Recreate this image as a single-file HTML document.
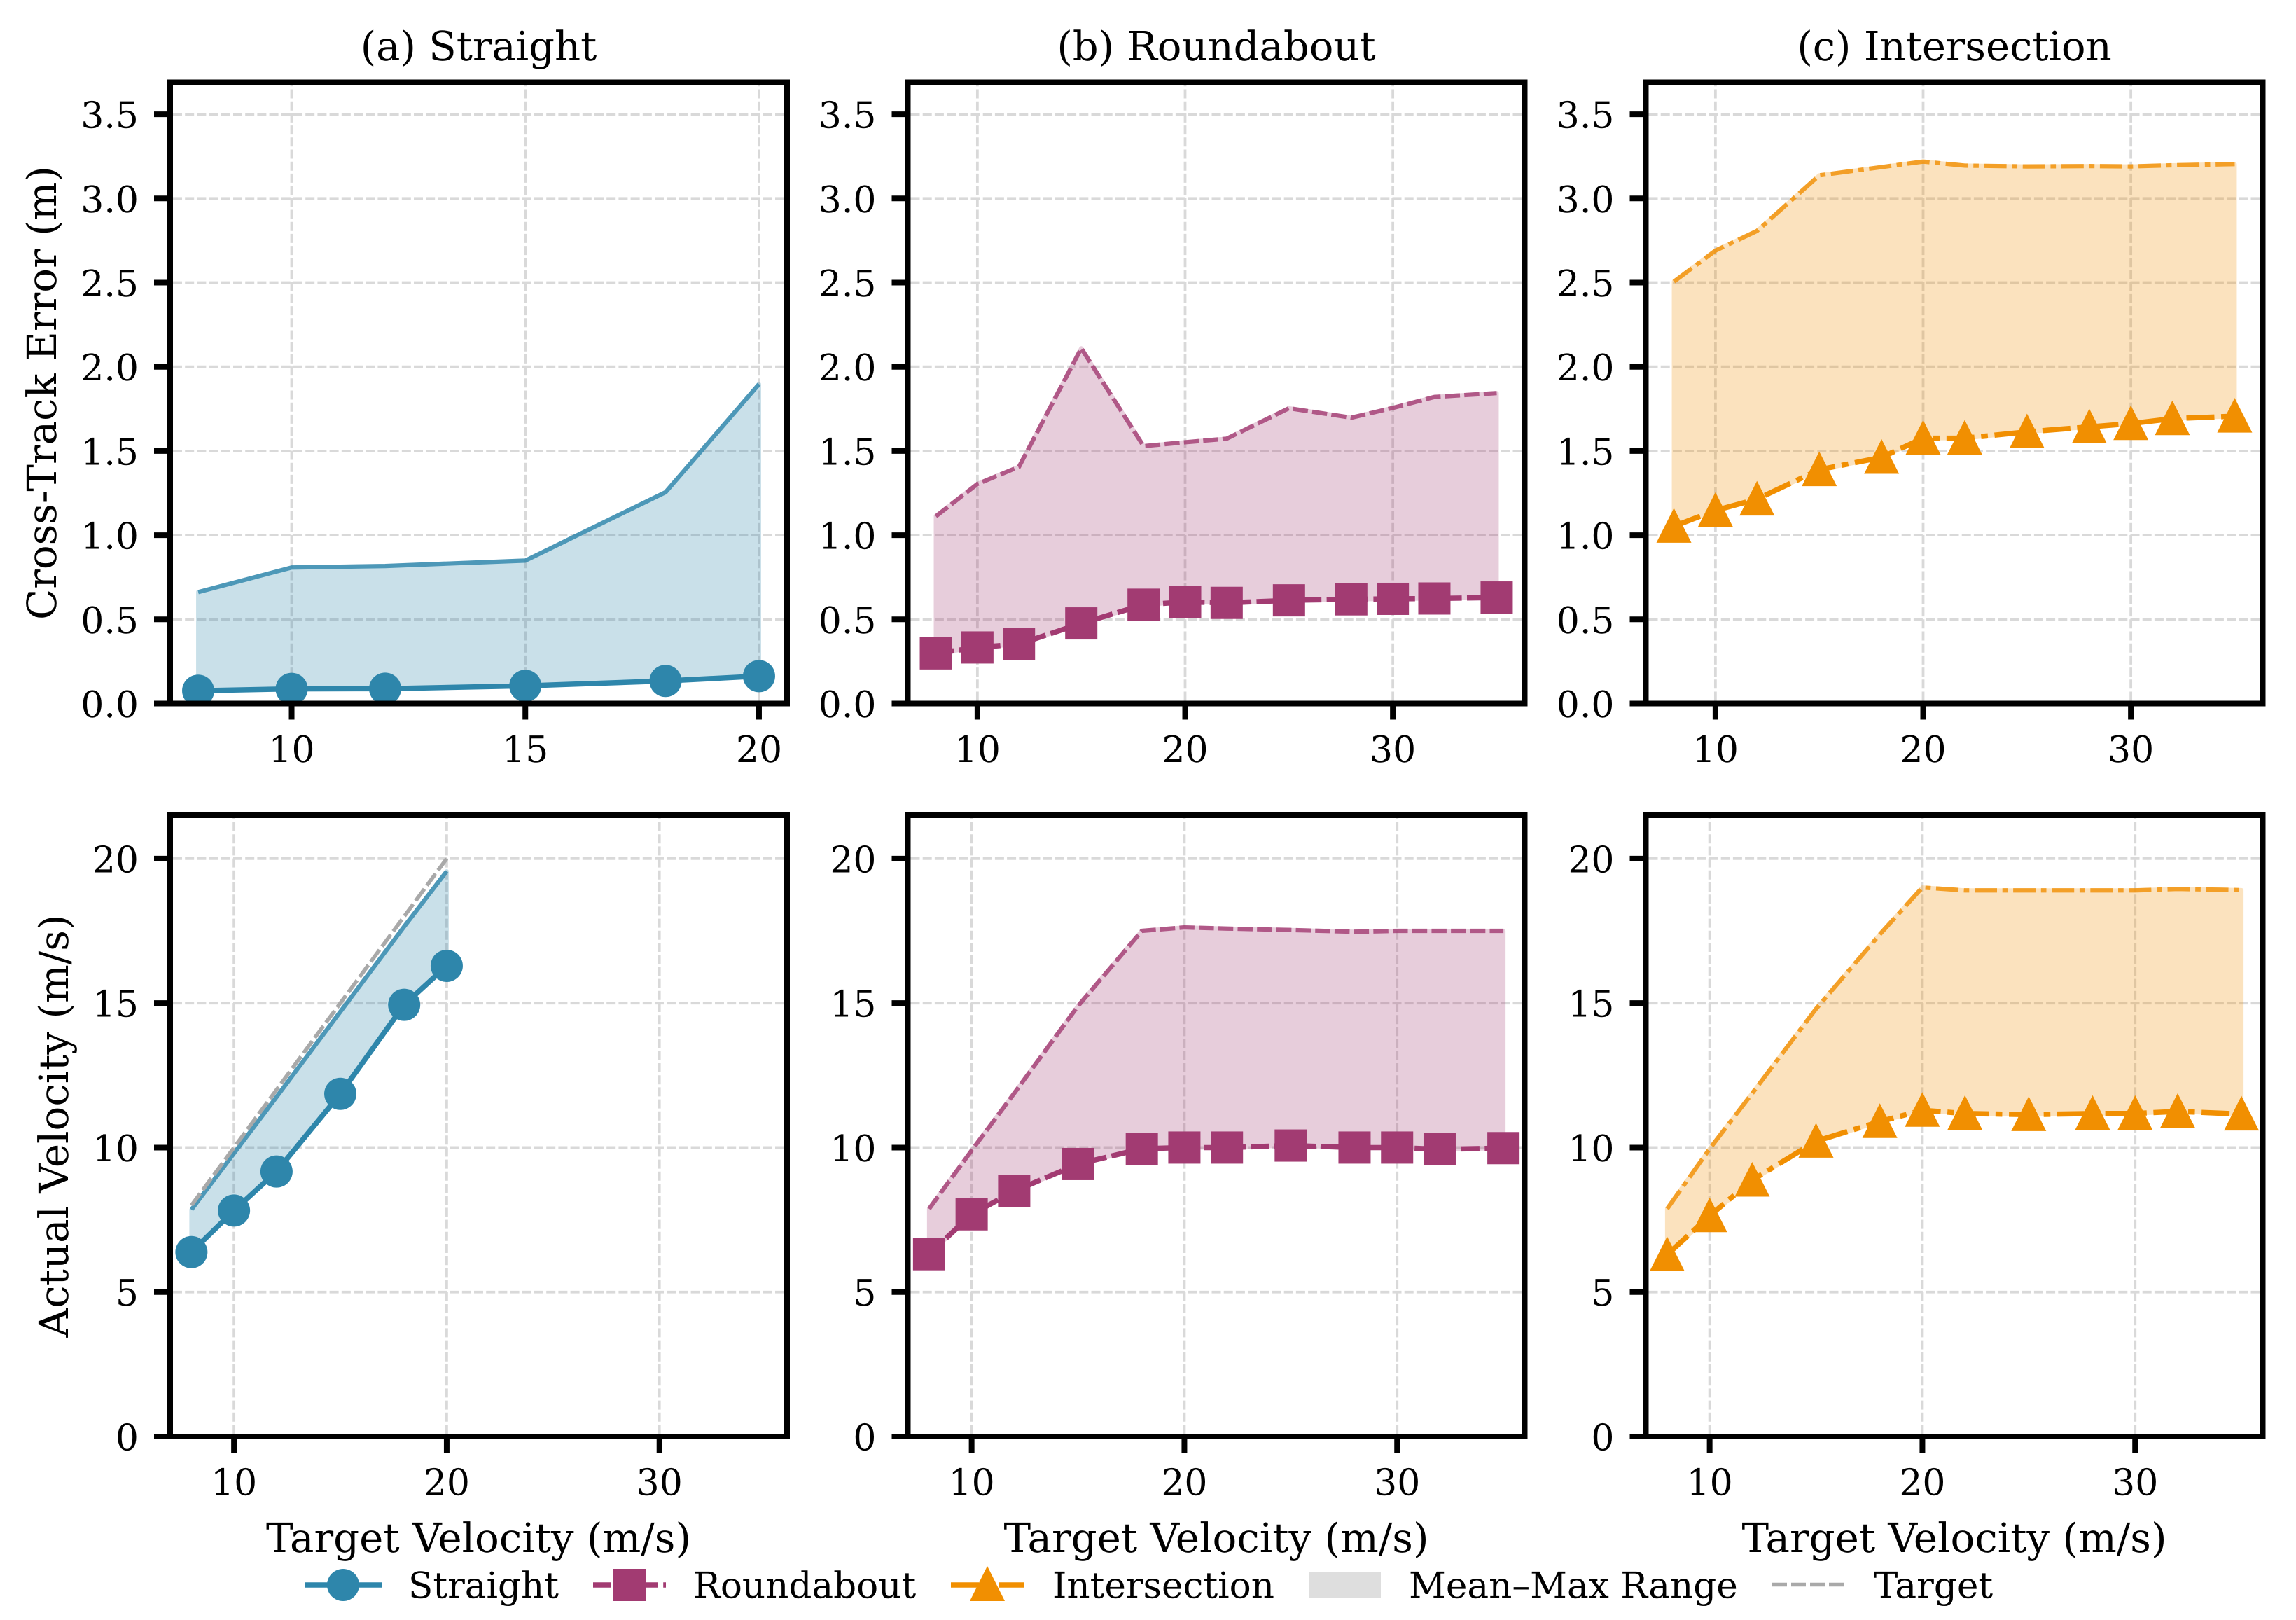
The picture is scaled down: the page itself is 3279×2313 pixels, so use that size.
<!DOCTYPE html>
<html lang="en">
<head>
<meta charset="utf-8">
<title>Velocity tracking results by road scenario</title>
<style>
  html, body { margin: 0; padding: 0; background: #ffffff; }
  svg { display: block; }
  text { font-family: "DejaVu Serif", "Liberation Serif", serif; fill: #000000; text-rendering: geometricPrecision; }
</style>
</head>
<body>
<svg id="figure" xmlns="http://www.w3.org/2000/svg" width="3279" height="2313" viewBox="0 0 3279 2313">
  <rect x="0" y="0" width="3279" height="2313" fill="#ffffff"/>

  <g id="panels"></g>

  <g text-anchor="middle">
    <text x="683.5" y="86" font-size="57.6" text-anchor="middle">(a) Straight</text>
    <text x="1737" y="86" font-size="57.6" text-anchor="middle">(b) Roundabout</text>
    <text x="2791" y="86" font-size="57.6" text-anchor="middle">(c) Intersection</text>
  </g>

  <g>
    <text transform="translate(80 561) rotate(-90)" font-size="57.8" text-anchor="middle">Cross-Track Error (m)</text>
    <text transform="translate(97 1607.5) rotate(-90)" font-size="57.8" text-anchor="middle">Actual Velocity (m/s)</text>
    <text x="683.5" y="2216" font-size="57.8" text-anchor="middle">Target Velocity (m/s)</text>
    <text x="1737" y="2216" font-size="57.8" text-anchor="middle">Target Velocity (m/s)</text>
    <text x="2791" y="2216" font-size="57.8" text-anchor="middle">Target Velocity (m/s)</text>
  </g>

  <g>
    <g>
      <line x1="435" y1="2263" x2="545" y2="2263" stroke="#2E86AB" stroke-width="7.5"/>
      <circle cx="490" cy="2263" r="23" fill="#2E86AB"/>
      <text x="583" y="2281.5" font-size="51.6">Straight</text>
    </g>
    <g>
      <line x1="847" y1="2263" x2="951" y2="2263" stroke="#A23B72" stroke-width="7.5" stroke-dasharray="26 7.4"/>
      <rect x="876" y="2240" width="46" height="46" fill="#A23B72"/>
      <text x="990" y="2281.5" font-size="51.6">Roundabout</text>
    </g>
    <g>
      <line x1="1358" y1="2263" x2="1462" y2="2263" stroke="#F18F01" stroke-width="7.5" stroke-dasharray="40 9.6 9.6 9.6"/>
      <polygon points="1410,2236 1435,2286 1385,2286" fill="#F18F01"/>
      <text x="1503" y="2281.5" font-size="51.6">Intersection</text>
    </g>
    <g>
      <rect x="1869" y="2245" width="103" height="37" fill="#dedede"/>
      <text x="2012" y="2281.5" font-size="51.6">Mean–Max Range</text>
    </g>
    <g>
      <line x1="2531" y1="2262.5" x2="2633" y2="2262.5" stroke="#a9a9a9" stroke-width="5.5" stroke-dasharray="21 6"/>
      <text x="2676" y="2281.5" font-size="51.6">Target</text>
    </g>
  </g>
</svg>

<script>
// ---- chart data ----
const straightSpeeds = [8, 10, 12, 15, 18, 20];
const curvedSpeeds = [8, 10, 12, 15, 18, 20, 22, 25, 28, 30, 32, 35];

const straightCteMean = [0.076, 0.087, 0.088, 0.105, 0.134, 0.163];
const straightCteMax = [0.662, 0.808, 0.817, 0.849, 1.255, 1.897];
const roundaboutCteMean = [0.298, 0.333, 0.353, 0.476, 0.587, 0.604, 0.598, 0.613, 0.619, 0.622, 0.624, 0.63];
const roundaboutCteMax = [1.112, 1.304, 1.406, 2.11, 1.529, 1.552, 1.573, 1.754, 1.698, 1.756, 1.821, 1.844];
const intersectionCteMean = [1.053, 1.147, 1.214, 1.389, 1.462, 1.576, 1.576, 1.614, 1.643, 1.663, 1.692, 1.707];
const intersectionCteMax = [2.506, 2.69, 2.807, 3.137, 3.186, 3.219, 3.195, 3.19, 3.192, 3.19, 3.197, 3.204];

const straightVelMean = [6.38, 7.82, 9.17, 11.86, 14.94, 16.29];
const straightVelMax = [7.85, 9.8, 11.75, 14.7, 17.65, 19.56];
const roundaboutVelMean = [6.31, 7.69, 8.49, 9.43, 9.96, 10.0, 10.0, 10.07, 10.0, 10.0, 9.94, 9.98];
const roundaboutVelMax = [7.88, 9.9, 11.88, 14.9, 17.5, 17.62, 17.58, 17.53, 17.47, 17.5, 17.5, 17.5];
const intersectionVelMean = [6.29, 7.64, 8.87, 10.22, 10.9, 11.29, 11.18, 11.14, 11.18, 11.18, 11.25, 11.16];
const intersectionVelMax = [7.88, 9.96, 11.88, 14.8, 17.38, 19.0, 18.9, 18.9, 18.9, 18.9, 18.95, 18.91];

const targetSpeeds = [8, 20];
const targetVelocity = [8, 20];

const cteTickValues = [0, 0.5, 1, 1.5, 2, 2.5, 3, 3.5];
const cteTickLabels = ['0.0', '0.5', '1.0', '1.5', '2.0', '2.5', '3.0', '3.5'];
const velTickValues = [0, 5, 10, 15, 20];
const velTickLabels = ['0', '5', '10', '15', '20'];
const straightCteXTicks = [10, 15, 20];
const commonXTicks = [10, 20, 30];

// ---- layout and styling ----
const NS = 'http://www.w3.org/2000/svg';
const root = document.getElementById('panels');
const COLUMN_LEFT = [243, 1296.5, 2350.5];
const PANEL_W = 881;
const ROW_CTE = { top: 117.5, bottom: 1004.5, yMax: 887 / 240.4 };
const ROW_VEL = { top: 1164, bottom: 2051, yMax: 21.5 };
const STYLES = {
  straight: { color: '#2E86AB', meanDash: null, maxDash: null, marker: 'circle' },
  roundabout: { color: '#A23B72', meanDash: '26 7.4', maxDash: '21.5 6.2', marker: 'square' },
  intersection: { color: '#F18F01', meanDash: '40 9.6 9.6 9.6', maxDash: '32 7.7 7.7 7.7', marker: 'triangle' }
};

function mk(parent, tag, attrs) {
  const el = document.createElementNS(NS, tag);
  for (const k in attrs) el.setAttribute(k, attrs[k]);
  parent.appendChild(el);
  return el;
}

function drawPanel(id, col, row, scenario, xs, meanVals, maxVals, xLim, xTicks, yTickValues, yTickLabels, target) {
  const left = COLUMN_LEFT[col], right = left + PANEL_W;
  const top = row.top, bottom = row.bottom;
  const xScale = function (v) { return left + (v - xLim[0]) / (xLim[1] - xLim[0]) * PANEL_W; };
  const yScale = function (v) { return bottom - v / row.yMax * (bottom - top); };
  const style = STYLES[scenario];

  const panel = mk(root, 'g', {});
  
  

  const clip = mk(panel, 'clipPath', { id: 'clip-' + id });
  
  
  mk(clip, 'rect', { x: left, y: top, width: PANEL_W, height: bottom - top });

  const grid = mk(panel, 'g', { stroke: '#d9d9d9', 'stroke-width': 3.8, 'stroke-dasharray': '13 4.2' });
  
  
  xTicks.forEach(function (t) {
    const line = mk(grid, 'line', { x1: xScale(t), x2: xScale(t), y1: bottom - 4, y2: top + 4 });
    
    
  });
  yTickValues.forEach(function (t) {
    if (t === 0) return;
    const line = mk(grid, 'line', { x1: left + 4, x2: right - 4, y1: yScale(t), y2: yScale(t) });
    
    
  });

  const plot = mk(panel, 'g', { 'clip-path': 'url(#clip-' + id + ')' });
  
  

  const upper = xs.map(function (x, i) { return xScale(x) + ',' + yScale(maxVals[i]); });
  const lower = xs.map(function (x, i) { return xScale(x) + ',' + yScale(meanVals[i]); });
  const band = mk(plot, 'polygon', { points: upper.concat(lower.slice().reverse()).join(' '), fill: style.color, stroke: style.color, 'stroke-width': 6, 'stroke-linejoin': 'round', opacity: 0.25 });
  
  

  const maxAttrs = { points: upper.join(' '), fill: 'none', stroke: style.color, 'stroke-opacity': 0.8, 'stroke-width': 6.2, 'stroke-linejoin': 'round' };
  if (style.maxDash) maxAttrs['stroke-dasharray'] = style.maxDash;
  const maxLine = mk(plot, 'polyline', maxAttrs);
  
  

  if (target) {
    const tPoints = target.xs.map(function (x, i) { return xScale(x) + ',' + yScale(target.ys[i]); }).join(' ');
    const targetLine = mk(plot, 'polyline', { points: tPoints, fill: 'none', stroke: '#a9a9a9', 'stroke-width': 5.5, 'stroke-dasharray': '21 6' });
    
    
  }

  const meanAttrs = { points: lower.join(' '), fill: 'none', stroke: style.color, 'stroke-width': 7.5, 'stroke-linejoin': 'round' };
  if (style.meanDash) meanAttrs['stroke-dasharray'] = style.meanDash;
  const meanLine = mk(plot, 'polyline', meanAttrs);
  
  

  xs.forEach(function (x, i) {
    const cx = xScale(x), cy = yScale(meanVals[i]);
    let m;
    if (style.marker === 'circle') {
      m = mk(plot, 'circle', { cx: cx, cy: cy, r: 23, fill: style.color });
    } else if (style.marker === 'square') {
      m = mk(plot, 'rect', { x: cx - 23, y: cy - 23, width: 46, height: 46, fill: style.color });
    } else {
      m = mk(plot, 'polygon', { points: (cx) + ',' + (cy - 26) + ' ' + (cx + 25) + ',' + (cy + 23.5) + ' ' + (cx - 25) + ',' + (cy + 23.5), fill: style.color });
    }
    
    
  });

  const ticks = mk(panel, 'g', { stroke: '#000000', 'stroke-width': 8 });
  
  
  const labels = mk(panel, 'g', { 'font-size': 52 });
  
  

  xTicks.forEach(function (t) {
    const tick = mk(ticks, 'line', { x1: xScale(t), x2: xScale(t), y1: bottom, y2: bottom + 23 });
    
    
    const label = mk(labels, 'text', { x: xScale(t), y: bottom + 83.5, 'text-anchor': 'middle' });
    
    
    label.textContent = String(t);
  });
  yTickValues.forEach(function (t, i) {
    const tick = mk(ticks, 'line', { x1: left - 23, x2: left, y1: yScale(t), y2: yScale(t) });
    
    
    const label = mk(labels, 'text', { x: left - 45, y: yScale(t) + 19.5, 'text-anchor': 'end' });
    
    
    label.textContent = yTickLabels[i];
  });

  const frame = mk(panel, 'rect', { x: left, y: top, width: PANEL_W, height: bottom - top, fill: 'none', stroke: '#000000', 'stroke-width': 8 });
  
  
}

drawPanel('cte-straight', 0, ROW_CTE, 'straight', straightSpeeds, straightCteMean, straightCteMax, [7.4, 20.6], straightCteXTicks, cteTickValues, cteTickLabels);
drawPanel('cte-roundabout', 1, ROW_CTE, 'roundabout', curvedSpeeds, roundaboutCteMean, roundaboutCteMax, [6.65, 36.35], commonXTicks, cteTickValues, cteTickLabels);
drawPanel('cte-intersection', 2, ROW_CTE, 'intersection', curvedSpeeds, intersectionCteMean, intersectionCteMax, [6.65, 36.35], commonXTicks, cteTickValues, cteTickLabels);
drawPanel('vel-straight', 0, ROW_VEL, 'straight', straightSpeeds, straightVelMean, straightVelMax, [7, 36], commonXTicks, velTickValues, velTickLabels, { xs: targetSpeeds, ys: targetVelocity });
drawPanel('vel-roundabout', 1, ROW_VEL, 'roundabout', curvedSpeeds, roundaboutVelMean, roundaboutVelMax, [7, 36], commonXTicks, velTickValues, velTickLabels);
drawPanel('vel-intersection', 2, ROW_VEL, 'intersection', curvedSpeeds, intersectionVelMean, intersectionVelMax, [7, 36], commonXTicks, velTickValues, velTickLabels);
</script>
</body>
</html>
